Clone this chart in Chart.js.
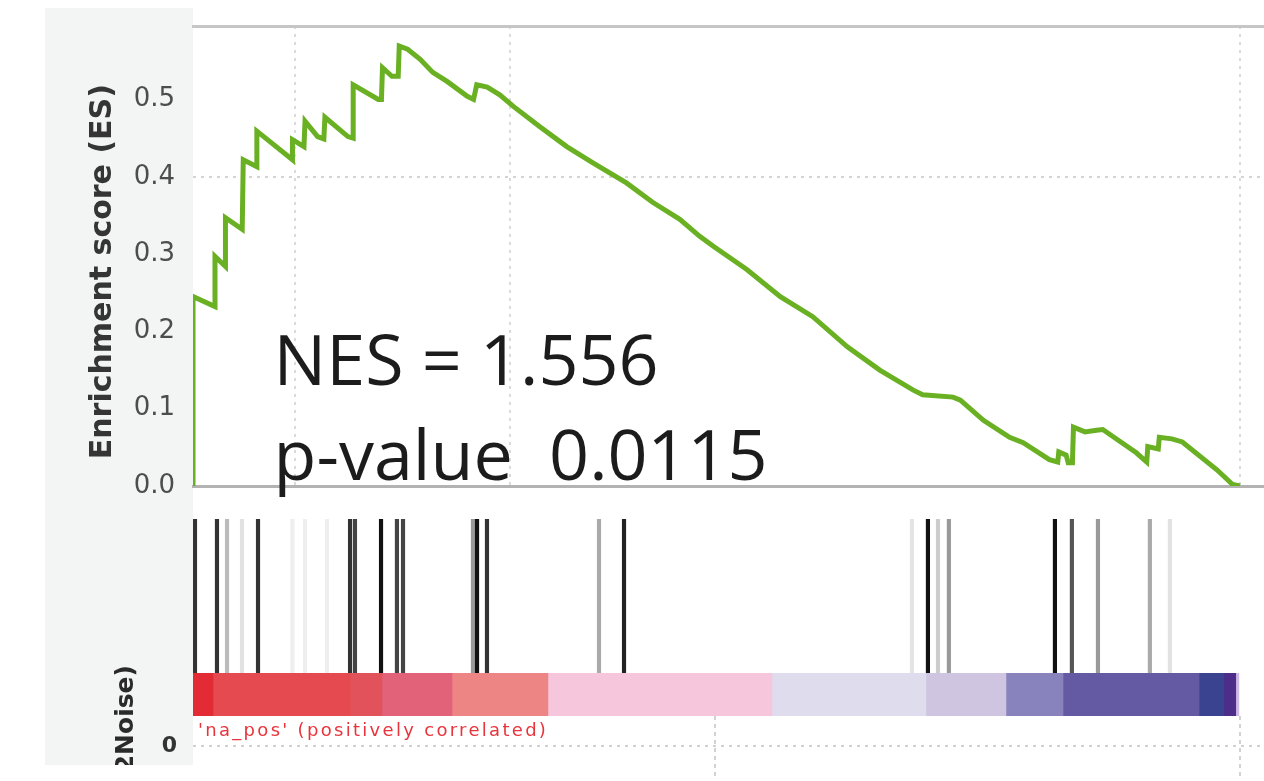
<!DOCTYPE html>
<html><head><meta charset="utf-8">
<script src="https://cdn.jsdelivr.net/npm/chart.js@4.4.1/dist/chart.umd.min.js"></script>
<style>
html,body{margin:0;padding:0;background:#fff;overflow:hidden;width:1264px;height:781px;}
#stage{position:relative;width:1264px;height:781px;overflow:hidden;background:#fff;}
canvas{position:absolute;}
#panel{position:absolute;left:45px;top:8px;width:148px;height:757px;background:#f3f4f4;}
#metricClip{position:absolute;left:95px;top:640px;width:60px;height:125px;overflow:hidden;}
#metricAnchor{position:absolute;left:30px;top:25px;width:0;height:0;transform:rotate(-90deg);transform-origin:0 0;}
#metricLabel{position:absolute;right:0;top:-15px;line-height:30px;height:30px;white-space:nowrap;font:bold 25px 'DejaVu Sans';color:#2a2a2a;}
</style></head>
<body><div id="stage">
<div id="panel"></div>
<canvas id="es" width="1264" height="500" style="left:0;top:0"></canvas>
<canvas id="hits" width="1071" height="154" style="left:193px;top:519px"></canvas>
<canvas id="heat" width="1071" height="43" style="left:193px;top:673px"></canvas>
<canvas id="metric" width="1264" height="60" style="left:0;top:716px"></canvas>
<div id="metricClip"><div id="metricAnchor"><div id="metricLabel">Ranked list metric (Signal2Noise)</div></div></div>
</div>
<script>
// ---- data (rank position in the ordered gene list, 0..1000 visible) ----
const esRank  = [0, 0, 21, 21, 31, 31, 47, 48, 61, 61, 95, 95, 106, 107, 119, 125, 126, 148, 153, 153, 177, 180, 181, 190, 196, 197,
                 205, 217, 229, 243, 262, 268, 271, 281, 293, 306, 331, 357, 382, 414, 439, 465, 484, 497, 529, 561, 592, 625, 656,
                 688, 697, 726, 733, 755, 780, 793, 818, 826, 827, 834, 836, 840, 841, 852, 863, 869, 901, 911, 912, 922, 923, 935,
                 945, 978, 993, 1000];
const esScore = [0, 0.245, 0.232, 0.297, 0.284, 0.347, 0.332, 0.422, 0.413, 0.459, 0.422, 0.448, 0.439, 0.472, 0.452, 0.449, 0.477,
                 0.452, 0.450, 0.519, 0.500, 0.500, 0.541, 0.530, 0.530, 0.569,
                 0.565, 0.552, 0.535, 0.523, 0.504, 0.500, 0.519, 0.516, 0.506, 0.491, 0.465, 0.439, 0.418, 0.392, 0.367, 0.345,
                 0.323, 0.310, 0.280, 0.245, 0.219, 0.180, 0.150, 0.124, 0.118, 0.115, 0.111, 0.085, 0.063, 0.056, 0.034, 0.031,
                 0.044, 0.040, 0.030, 0.030, 0.076, 0.070, 0.072, 0.073, 0.043, 0.031, 0.051, 0.048, 0.063, 0.061, 0.057, 0.021,
                 0.002, 0];
const yTickValues = [0, 0.1, 0.2, 0.3, 0.4, 0.5];
const esGridRanks = [97.4, 302.8, 1000];
const hitRanks  = [1.9, 22.9, 32.5, 46.8, 62.1, 95, 107, 128, 150, 154.7, 179.6, 194.8, 200.6, 267.4, 271.3, 280.8, 387.8, 411.7,
                   686.7, 702, 711.6, 722, 823.3, 839.5, 864.4, 914, 933.1];
const hitShades = ['#333', '#333', '#bbb', '#e2e2e2', '#333', '#eee', '#eee', '#eee', '#333', '#444', '#111', '#444', '#444', '#999',
                   '#111', '#333', '#aaa', '#222', '#e4e4e4', '#111', '#ccc', '#999', '#111', '#555', '#999', '#aaa', '#e2e2e2'];
const heatEdges  = [0, 19.1, 150, 180.5, 247.4, 339, 553, 700, 776.5, 831, 961, 984.7, 996, 999];
const heatColors = ['#e32b35', '#e44a4f', '#e2525a', '#e2627a', '#ee8585', '#f5c6dc', '#dfdcee', '#cfc5e1', '#8983bd', '#6459a3',
                    '#39438f', '#4d2d89', '#cdb8e6'];
const metricTicks = [0];
const metricGridRanks = [498.6, 1000];
const noteLines = ['NES = 1.556', 'p-value  0.0115'];
const phenotypeLabel = "'na_pos' (positively correlated)";

// ---- annotation anchors (data coordinates) ----
const RANK_MAX = 1023;
const noteRank = 77, noteScores = [0.1308, 0.0078];
const labelRank = 4.8, labelLevel = 0.5;

Chart.defaults.font.family = "'DejaVu Sans'";

function fixedYAxis(s) { s.width = 193; s.paddingTop = 0; s.paddingBottom = 0; }

const notesPlugin = {
  id: 'notes',
  afterDraw(chart) {
    const {ctx, scales: {x, y}} = chart;
    ctx.save();
    ctx.font = '70px "Open Sans"';
    ctx.fillStyle = '#1c1c1c';
    ctx.textBaseline = 'alphabetic';
    noteLines.forEach((t, i) => ctx.fillText(t, x.getPixelForValue(noteRank), y.getPixelForValue(noteScores[i])));
    ctx.restore();
  }
};

new Chart(document.getElementById('es'), {
  type: 'line',
  data: { datasets: [{ data: esRank.map((r, i) => ({x: r, y: esScore[i]})), borderColor: '#6ab023', borderWidth: 5,
                       pointRadius: 0, tension: 0, fill: false }] },
  options: {
    responsive: false, animation: false, devicePixelRatio: 1,
    layout: { padding: { top: 26, bottom: 14, left: 0, right: 0 } },
    plugins: { legend: { display: false }, tooltip: { enabled: false } },
    scales: {
      x: { type: 'linear', min: 0, max: RANK_MAX, offset: false,
           afterBuildTicks(s) { s.ticks = esGridRanks.map(v => ({value: v})); },
           ticks: { display: false }, grid: { color: '#dadada', lineWidth: 2, drawTicks: false },
           border: { display: true, color: '#b3b3b3', width: 3, dash: [3, 5] } },
      top: { axis: 'x', type: 'linear', position: 'top', min: 0, max: RANK_MAX, ticks: { display: false },
             grid: { display: false, drawTicks: false }, border: { display: true, color: '#c6c6c6', width: 3 } },
      y: { min: 0, max: 0.595,
           afterBuildTicks(s) { s.ticks = yTickValues.map(v => ({value: v})); },
           afterFit: fixedYAxis,
           ticks: { font: { size: 26 }, color: '#4d4d4d', padding: 18, callback: v => Number(v).toFixed(1) },
           grid: { color: c => (c.tick && Math.abs(c.tick.value - 0.4) < 1e-9) ? '#d4d4d4' : 'rgba(0,0,0,0)', lineWidth: 2, drawTicks: false },
           border: { display: false, dash: [3, 5] },
           title: { display: true, text: 'Enrichment score (ES)   ', font: { size: 30, weight: 'bold', lineHeight: 1.2 },
                    color: '#353535', padding: { top: 85, bottom: 0 } } }
    }
  },
  plugins: [notesPlugin]
});

new Chart(document.getElementById('hits'), {
  type: 'bar',
  data: { datasets: [{ data: hitRanks.map(r => ({x: r, y: 1})), backgroundColor: hitShades, barThickness: 3.5, borderWidth: 0 }] },
  options: {
    responsive: false, animation: false, devicePixelRatio: 1, layout: { padding: 0 },
    plugins: { legend: { display: false }, tooltip: { enabled: false } },
    scales: { x: { type: 'linear', min: 0, max: RANK_MAX, offset: false, display: false },
              y: { min: 0, max: 1, display: false } }
  }
});

new Chart(document.getElementById('heat'), {
  type: 'bar',
  data: { labels: ['metric'],
          datasets: heatColors.map((c, i) => ({ data: [[heatEdges[i], heatEdges[i + 1]]], backgroundColor: c, borderWidth: 0,
                                                barPercentage: 1, categoryPercentage: 1, grouped: false })) },
  options: {
    indexAxis: 'y', responsive: false, animation: false, devicePixelRatio: 1, layout: { padding: 0 },
    plugins: { legend: { display: false }, tooltip: { enabled: false } },
    scales: { x: { type: 'linear', min: 0, max: RANK_MAX, display: false }, y: { display: false } }
  }
});

const phenotypePlugin = {
  id: 'phenotype',
  afterDraw(chart) {
    const {ctx, scales: {x, y}} = chart;
    ctx.save();
    ctx.font = '18px "DejaVu Sans"';
    try { ctx.letterSpacing = '2.3px'; } catch (e) {}
    ctx.fillStyle = '#e8353d';
    ctx.textBaseline = 'middle';
    ctx.fillText(phenotypeLabel, x.getPixelForValue(labelRank), y.getPixelForValue(labelLevel));
    ctx.restore();
  }
};

new Chart(document.getElementById('metric'), {
  type: 'line',
  data: { datasets: [{ data: [] }] },
  options: {
    responsive: false, animation: false, devicePixelRatio: 1, layout: { padding: 0 },
    plugins: { legend: { display: false }, tooltip: { enabled: false } },
    scales: {
      x: { type: 'linear', min: 0, max: RANK_MAX,
           afterBuildTicks(s) { s.ticks = metricGridRanks.map(v => ({value: v})); },
           ticks: { display: false }, grid: { color: '#d2d2d2', lineWidth: 2, drawTicks: false },
           border: { display: false, dash: [4, 4] } },
      y: { min: -1, max: 1,
           afterBuildTicks(s) { s.ticks = metricTicks.map(v => ({value: v})); },
           afterFit: fixedYAxis,
           ticks: { font: { size: 22, weight: 'bold' }, color: '#333', padding: 16 },
           grid: { color: '#d2d2d2', lineWidth: 2, drawTicks: false },
           border: { display: false, dash: [3, 5] } }
    }
  },
  plugins: [phenotypePlugin]
});
</script>
</body></html>
